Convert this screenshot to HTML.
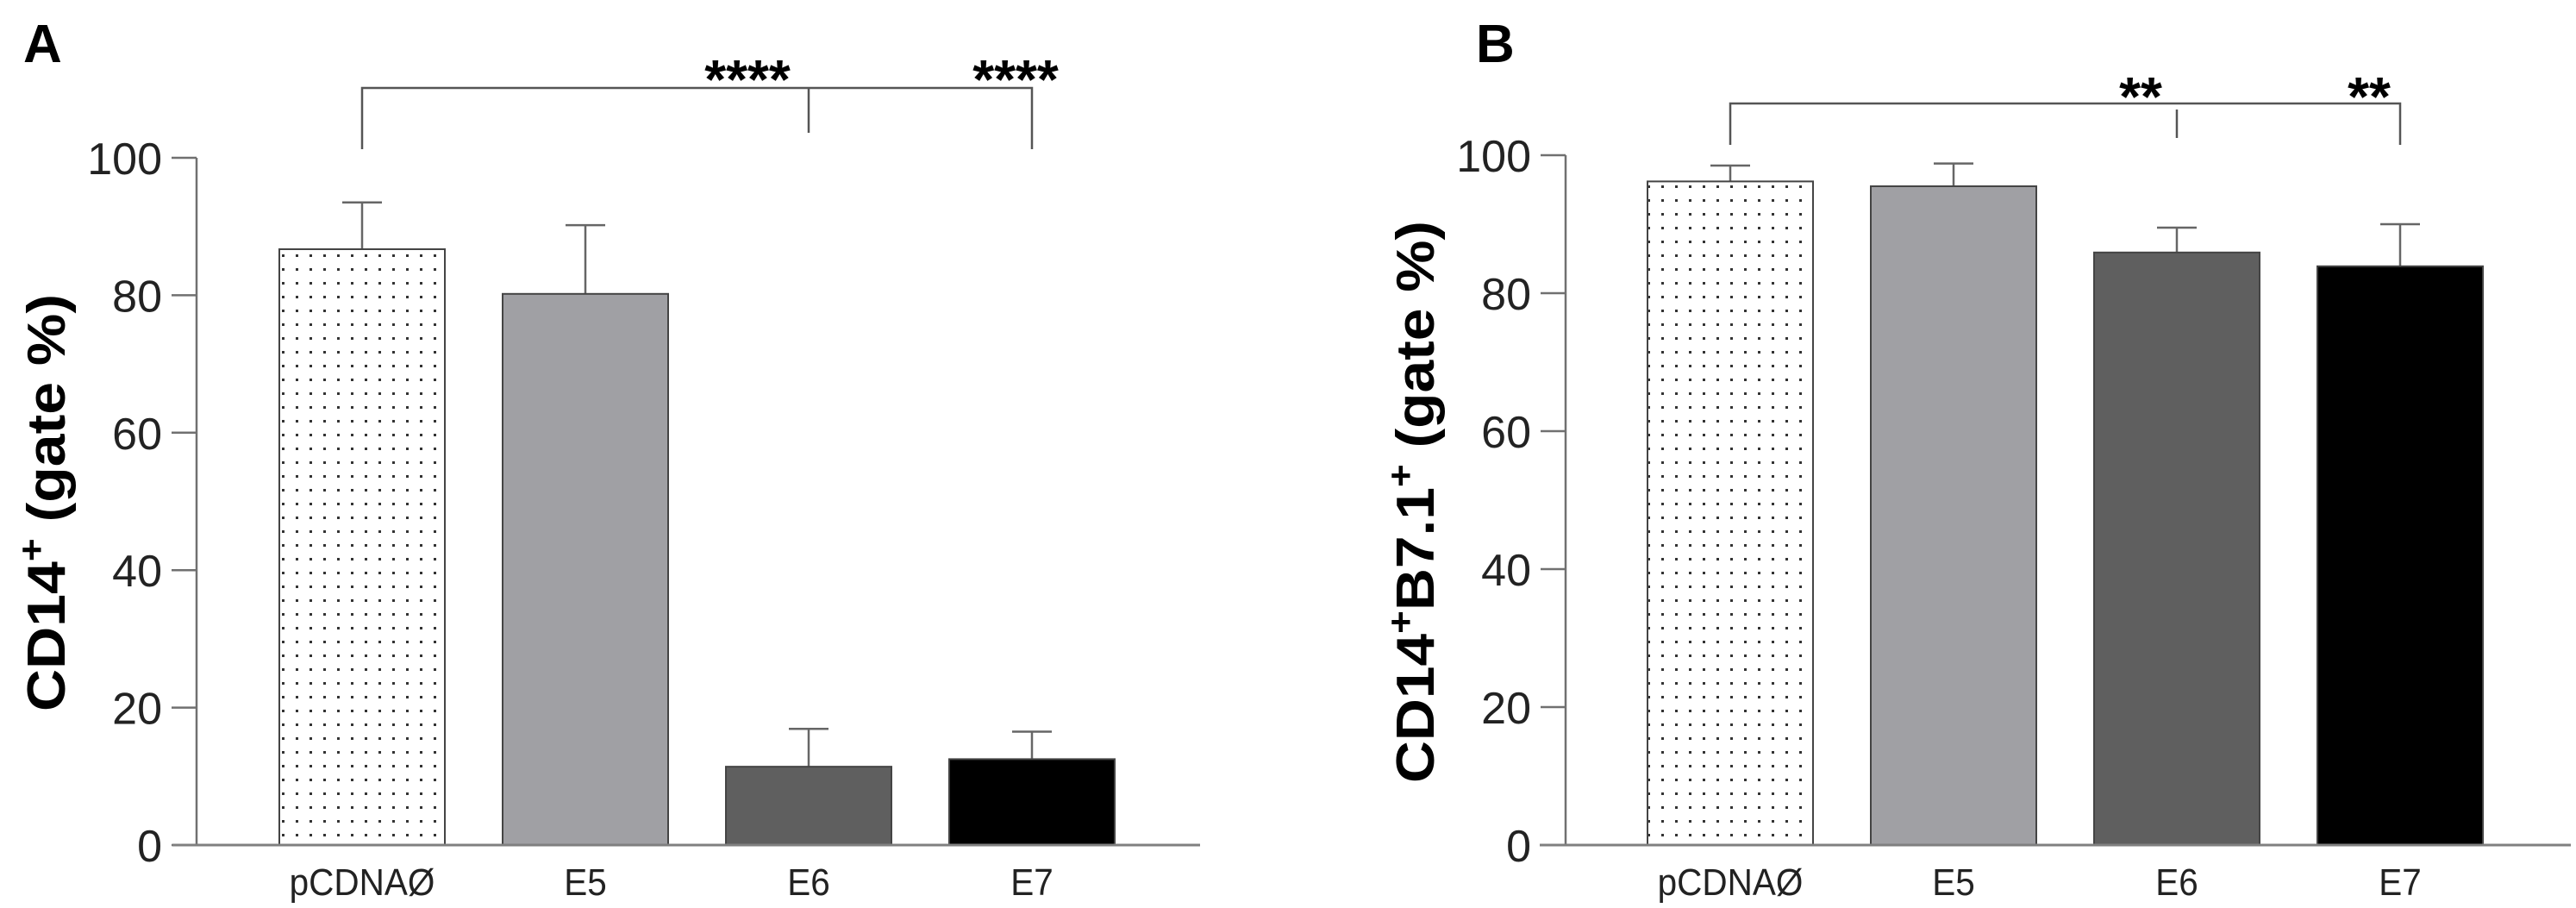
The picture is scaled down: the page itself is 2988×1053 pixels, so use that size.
<!DOCTYPE html>
<html><head><meta charset="utf-8"><style>
html,body{margin:0;padding:0;background:#fff;overflow:hidden;}
svg{display:block;}
text{font-family:"Liberation Sans",Arial,sans-serif;}
</style></head><body>
<svg id="chart" width="2988" height="1053" viewBox="0 0 2988 1053" xmlns="http://www.w3.org/2000/svg">
<defs>
<pattern id="dots" width="16" height="16" patternUnits="userSpaceOnUse">
<rect width="16" height="16" fill="#fff"/>
<rect x="7" y="7" width="3" height="3" fill="#333"/>
</pattern>
</defs>
<g id="root"></g>
</svg>
<script>
const categories = ["pCDNAØ","E5","E6","E7"];
const valuesA = [86.7, 80.2, 11.4, 12.5];
const errorsA = [93.5, 90.2, 16.9, 16.5];
const valuesB = [96.2, 95.5, 85.9, 83.9];
const errorsB = [98.5, 98.8, 89.5, 90.0];
const yTicks = [0,20,40,60,80,100];
const fills = ["url(#dots)","#a0a0a4","#5f5f5f","#000000"];
const starsA = ["****","****"];
const starsB = ["**","**"];

const NS="http://www.w3.org/2000/svg";
const root=document.getElementById('root');
function el(tag,attrs,parent){const e=document.createElementNS(NS,tag);for(const k in attrs)e.setAttribute(k,attrs[k]);(parent||root).appendChild(e);return e;}

function panel(cfg){
  const g=el('g',{});
  
  
  const y=v=>cfg.y0-(v/100)*(cfg.y0-cfg.y100);
  const x=i=>cfg.bx0+i*cfg.step;
  const L=el('text',{x:cfg.letterX,y:72,'font-size':62,'font-weight':'bold',fill:'#000'},g);
  L.textContent=cfg.letter;
  
  
  const ya=el('line',{x1:cfg.ax,y1:y(100),x2:cfg.ax,y2:cfg.y0,stroke:'#707070','stroke-width':2.5},g);
  
  
  yTicks.forEach(t=>{
    const tk=el('line',{x1:cfg.ax-29,y1:y(t),x2:cfg.ax,y2:y(t),stroke:'#707070','stroke-width':2.5},g);
    
    
    const tl=el('text',{x:cfg.ax-40,y:y(t)+19,'font-size':52,fill:'#222','text-anchor':'end'},g);
    tl.textContent=t;
    
    
  });
  const tt=el('text',{x:0,y:0,'font-size':62,'font-weight':'bold',fill:'#000','text-anchor':'middle',textLength:cfg.titleLen,lengthAdjust:'spacingAndGlyphs',transform:`translate(${cfg.titleX},${cfg.titleY}) rotate(-90)`},g);
  tt.innerHTML=cfg.titleHTML;
  
  
  cfg.vals.forEach((v,i)=>{
    const cx=x(i)+cfg.bw/2;
    const eb=el('line',{x1:cx,y1:y(cfg.errs[i]),x2:cx,y2:y(v),stroke:'#666','stroke-width':2.5},g);
    
    
    const ec=el('line',{x1:cx-23,y1:y(cfg.errs[i]),x2:cx+23,y2:y(cfg.errs[i]),stroke:'#666','stroke-width':2.5},g);
    
    
    const b=el('rect',{x:x(i),y:y(v),width:cfg.bw,height:cfg.y0-y(v),fill:fills[i],stroke:'#444','stroke-width':2},g);
    
    
    const cl=el('text',{x:0,y:0,'font-size':44,fill:'#222','text-anchor':'middle',transform:`translate(${cx},1038) scale(0.92,1)`},g);
    cl.textContent=categories[i];
    
    
  });
  const xa=el('line',{x1:cfg.xa0,y1:cfg.y0,x2:cfg.xa1,y2:cfg.y0,stroke:'#808080','stroke-width':3},g);
  
  
  const c0=x(0)+cfg.bw/2, c2=x(2)+cfg.bw/2, c3=x(3)+cfg.bw/2;
  const br=el('path',{d:`M${c0},${cfg.brBot} V${cfg.brY} H${c3} V${cfg.brBot} M${c2},${cfg.brMidTop} V${cfg.brMid}`,fill:'none',stroke:'#555','stroke-width':2.5},g);
  
  
  [cfg.star1X,cfg.star2X].forEach((sx,k)=>{
    const s=el('text',{x:sx,y:cfg.starY,'font-size':64,'font-weight':'bold',fill:'#000','text-anchor':'middle'},g);
    s.textContent=cfg.stars[k];
    
    
  });
}
panel({name:'panel-a',letter:'A',letterX:27,ax:228,y0:980,y100:183,bx0:324,step:259,bw:192,xa0:200,xa1:1392,
  vals:valuesA,errs:errorsA,titleX:75,titleY:583,titleLen:484,titleHTML:'CD14<tspan dy="-24" font-size="42">+</tspan><tspan dy="24"> (gate %)</tspan>',
  brY:102,brBot:173,brMidTop:102,brMid:154,star1X:867,star2X:1178,starY:114,stars:starsA});
panel({name:'panel-b',letter:'B',letterX:1712,ax:1816,y0:980,y100:180,bx0:1911,step:259,bw:192,xa0:1786,xa1:2982,
  vals:valuesB,errs:errorsB,titleX:1663,titleY:582,titleLen:652,titleHTML:'CD14<tspan dy="-24" font-size="42">+</tspan><tspan dy="24">B7.1</tspan><tspan dy="-24" font-size="42">+</tspan><tspan dy="24"> (gate %)</tspan>',
  brY:120,brBot:168,brMidTop:127,brMid:160,star1X:2483,star2X:2748,starY:134,stars:starsB});
</script>
</body></html>
